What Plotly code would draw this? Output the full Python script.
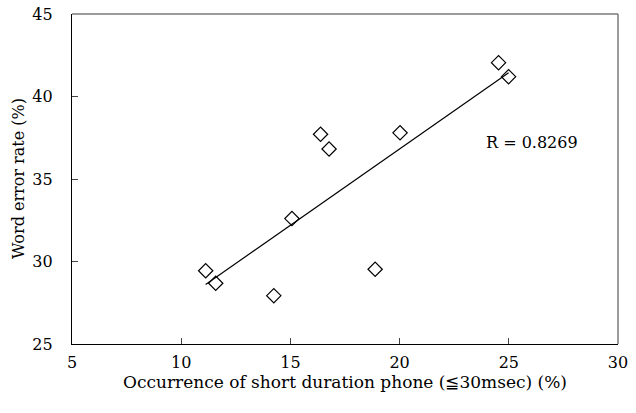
import numpy as np
import plotly.graph_objects as go

occurrence = [24.53, 24.99, 16.38, 16.77, 20.02, 15.07, 11.12, 11.58, 14.24, 18.88]
wer = [42.05, 41.2, 37.71, 36.82, 37.8, 32.6, 29.44, 28.68, 27.93, 29.53]
x_ticks = [5, 10, 15, 20, 25, 30]
y_ticks = [25, 30, 35, 40, 45]
r_label = "R = 0.8269"
x_title = "Occurrence of short duration phone (≦30msec) (%)"
y_title = "Word error rate (%)"

FONT = "DejaVu Serif"

slope, intercept = np.polyfit(occurrence, wer, 1)
fx = np.array([min(occurrence), max(occurrence)])
fy = slope * fx + intercept

fig = go.Figure()
fig.add_trace(go.Scatter(x=fx, y=fy, mode="lines", line=dict(color="black", width=1.2),
                         showlegend=False, hoverinfo="skip"))
fig.add_trace(go.Scatter(x=occurrence, y=wer, mode="markers",
                         marker=dict(symbol="diamond-open", size=11, color="black",
                                     line=dict(width=1.2, color="black")),
                         showlegend=False))

fig.add_annotation(x=26.06, y=37.22, text=r_label, showarrow=False,
                   font=dict(family=FONT, size=16, color="black"))
fig.add_annotation(xref="paper", yref="paper", x=(18 - 72) / 546, y=0.5,
                   text=y_title, textangle=-90, showarrow=False,
                   xanchor="center", yanchor="middle",
                   font=dict(family=FONT, size=16, color="black"))

fig.add_shape(type="line", xref="paper", yref="paper", x0=0, x1=1, y0=1, y1=1,
              line=dict(color="#7a7a7a", width=1.5))
fig.add_shape(type="line", xref="paper", yref="paper", x0=1, x1=1, y0=0, y1=1,
              line=dict(color="#7a7a7a", width=1.5))

fig.update_layout(
    width=636, height=413,
    margin=dict(l=72, r=18, t=14, b=69),
    paper_bgcolor="white", plot_bgcolor="white",
    font=dict(family=FONT, size=16, color="black"),
    xaxis=dict(range=[5, 30], tickvals=x_ticks, ticks="inside", ticklen=6,
               showline=True, linecolor="black", linewidth=1.2, showgrid=False,
               zeroline=False, ticklabelstandoff=4, automargin=False,
               title=dict(text=x_title, font=dict(size=17), standoff=0)),
    yaxis=dict(range=[25, 45], tickvals=y_ticks, ticks="inside", ticklen=6,
               showline=True, linecolor="black", linewidth=1.2, showgrid=False,
               zeroline=False, ticklabelstandoff=15, automargin=False),
)

fig.write_html("out.html", config={"displayModeBar": False},
               post_script="document.body.style.margin='0';document.body.style.overflow='hidden';")
